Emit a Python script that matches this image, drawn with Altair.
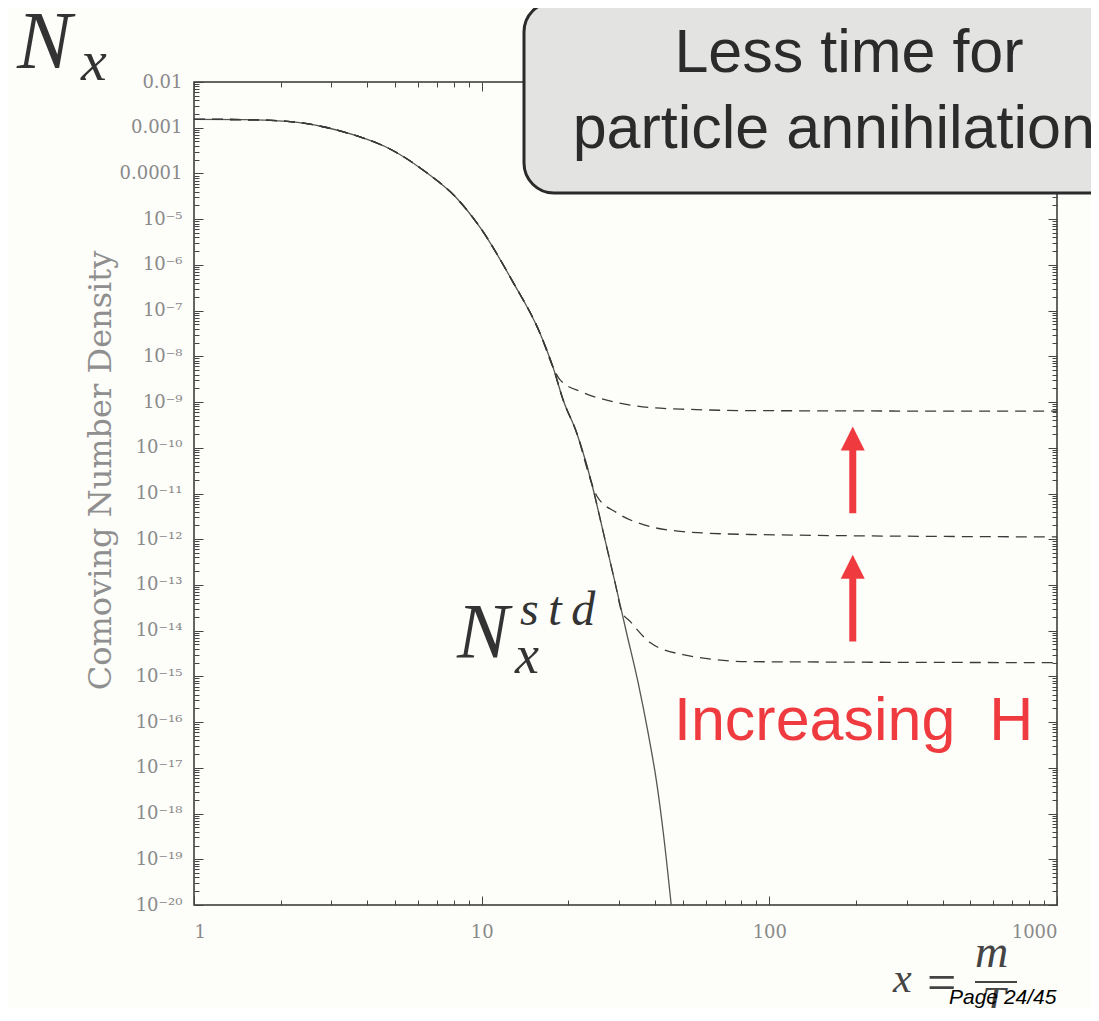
import json
import altair as alt
import pandas as pd

# ---------------- values ----------------
X_DOMAIN = [1, 1000]
Y_DOMAIN = [1e-20, 1e-2]

# equilibrium (solid) curve
EQ_X = [1.0, 1.5, 2.16, 2.81, 3.69, 4.80, 6.25, 8.21, 9.86, 12.85, 15.95, 17.7,
        19.2, 21.4, 24.1, 26.5, 29.1, 31.9, 35.0, 37.9, 40.6, 42.8, 45.6]
EQ_Y = [1.53e-3, 1.50e-3, 1.36e-3, 1.05e-3, 6.6e-4, 3.43e-4, 1.19e-4, 2.83e-5,
        6.7e-6, 4.2e-7, 3.2e-8, 5.8e-9, 1.11e-9, 2.1e-10, 1.7e-11, 1.37e-12,
        1.11e-13, 8.9e-15, 7.2e-16, 5.8e-17, 4.7e-18, 3.8e-19, 1e-20]

# dashed freeze-out curves: they follow the equilibrium curve for the first
# N points, then level off
D1_SHARED = 12
D1_X = [18.7, 22.5, 29.5, 38.5, 53.0, 85.7, 1000]
D1_Y = [3.1e-9, 1.62e-9, 9.8e-10, 7.6e-10, 6.9e-10, 6.5e-10, 6.3e-10]
D2_SHARED = 15
D2_X = [25.2, 29.5, 38.5, 50.1, 85.7, 1000]
D2_Y = [8.6e-12, 3.8e-12, 1.9e-12, 1.47e-12, 1.27e-12, 1.12e-12]
D3_SHARED = 17
D3_X = [30.7, 32.8, 38.5, 50.1, 85.7, 1000]
D3_Y = [2.6e-14, 1.6e-14, 5.5e-15, 3.0e-15, 2.1e-15, 2.0e-15]

# red "increasing H" arrows (x position, shaft bottom, shaft top, head centre)
ARROW_X = [195, 195]
ARROW_Y0 = [3.7e-12, 5.8e-15]
ARROW_Y1 = [9.9e-11, 1.6e-13]
ARROW_HEAD = [1.6e-10, 2.5e-13]

# tick values / labels
X_MAJOR = [1, 10, 100, 1000]
X_MINOR = [k * 10 ** e for e in range(0, 3) for k in range(1, 10)] + [1000]
Y_MAJOR = [10.0 ** e for e in range(-20, -1)]
Y_MINOR = [k * 10.0 ** e for e in range(-20, -2) for k in range(1, 10)] + [1e-2]
Y_TICK_LABELS = ["10⁻²⁰", "10⁻¹⁹", "10⁻¹⁸", "10⁻¹⁷", "10⁻¹⁶", "10⁻¹⁵", "10⁻¹⁴",
                 "10⁻¹³", "10⁻¹²", "10⁻¹¹", "10⁻¹⁰", "10⁻⁹", "10⁻⁸", "10⁻⁷",
                 "10⁻⁶", "10⁻⁵", "0.0001", "0.001", "0.01"]

# ---------------- tables ----------------
rows_eq = [{"x": x, "y": y, "i": i} for i, (x, y) in enumerate(zip(EQ_X, EQ_Y))]
df_eq = pd.DataFrame(rows_eq)

rows_d = []
for name, n, tx, ty in [("d1", D1_SHARED, D1_X, D1_Y),
                        ("d2", D2_SHARED, D2_X, D2_Y),
                        ("d3", D3_SHARED, D3_X, D3_Y)]:
    xs_ = EQ_X[:n] + tx
    ys_ = EQ_Y[:n] + ty
    for i, (x, y) in enumerate(zip(xs_, ys_)):
        rows_d.append({"x": x, "y": y, "i": i, "s": name})
df_d = pd.DataFrame(rows_d)

df_arrow = pd.DataFrame({"x": ARROW_X, "y0": ARROW_Y0, "y1": ARROW_Y1, "yh": ARROW_HEAD})

# ---------------- styling ----------------
W, H = 863, 823
GREY = "#8a8a8a"
RED = "#ef3b3f"
SERIF_LBL = "DejaVu Serif"
MATH = "Liberation Serif"
SANS = "Liberation Sans"

MAJOR_TEST = "abs(log(datum.value)/LN10 - round(log(datum.value)/LN10)) < 0.01"
TICK_SIZE = {"condition": {"test": MAJOR_TEST, "value": 9}, "value": 5}

xs = alt.Scale(type="log", domain=X_DOMAIN, nice=False)
ys = alt.Scale(type="log", domain=Y_DOMAIN, nice=False)

labels_js = "[" + ",".join(json.dumps(s, ensure_ascii=False) for s in Y_TICK_LABELS) + "]"

ax_x_lab = alt.Axis(orient="bottom", values=X_MAJOR, format="d", ticks=False, tickSize=0,
                    domain=False, grid=False, labelFont=SERIF_LBL, labelFontSize=18,
                    labelColor=GREY, labelPadding=18, title=None)
ax_y_lab = alt.Axis(orient="left", values=Y_MAJOR, labelExpr=labels_js + "[round(log(datum.value)/LN10) + 20]",
                    ticks=False, tickSize=0, domain=False, grid=False,
                    labelFont=SERIF_LBL, labelFontSize=18, labelColor=GREY, labelPadding=12,
                    title="Comoving Number Density", titleFont=SERIF_LBL, titleFontSize=32,
                    titleFontWeight="normal", titleColor="#8f8f8f", titleAngle=270,
                    titleX=-94, titleY=388, titleAlign="center", titleBaseline="middle")

def tick_axis(orient, offset, values):
    return alt.Axis(orient=orient, offset=offset, values=values, labels=False, domain=False,
                    grid=False, tickSize=TICK_SIZE, tickColor="#444", tickWidth=1, title=None)

eq = alt.Chart(df_eq).mark_line(color="#555", strokeWidth=1.3, interpolate="monotone").encode(
    x=alt.X("x:Q", scale=xs, axis=ax_x_lab),
    y=alt.Y("y:Q", scale=ys, axis=ax_y_lab),
    order="i:Q",
)

dashed = alt.Chart(df_d).mark_line(color="#3a3a3a", strokeWidth=1.3, strokeDash=[11, 7],
                                   interpolate="monotone").encode(
    x=alt.X("x:Q", scale=xs, axis=tick_axis("top", -H, X_MINOR)),
    y=alt.Y("y:Q", scale=ys, axis=tick_axis("right", -W, Y_MINOR)),
    detail="s:N",
    order="i:Q",
)

shaft = alt.Chart(df_arrow).mark_rule(color=RED, strokeWidth=7).encode(
    x=alt.X("x:Q", scale=xs, axis=tick_axis("bottom", -H, X_MINOR)),
    y=alt.Y("y0:Q", scale=ys, axis=tick_axis("left", -W, Y_MINOR)),
    y2="y1:Q",
)
head = alt.Chart(df_arrow).mark_point(shape="M-1,1L0,-1L1,1Z", filled=True, size=576,
                                      color=RED, opacity=1).encode(
    x=alt.X("x:Q", scale=xs, axis=None),
    y=alt.Y("yh:Q", scale=ys, axis=None),
)

one = pd.DataFrame({"k": [0]})

def txt(text, x, y, size, font, color="#333", style="normal", align="left", weight="normal"):
    return alt.Chart(one).mark_text(text=text, font=font, fontSize=size, fontStyle=style,
                                    fontWeight=weight, color=color, align=align,
                                    baseline="alphabetic").encode(
        x=alt.value(x), y=alt.value(y))

box = alt.Chart(one).mark_rect(fill="#e3e3e1", stroke="#2a2a2a", strokeWidth=3,
                               cornerRadius=30).encode(
    x=alt.value(330), x2=alt.value(940), y=alt.value(-80), y2=alt.value(111))

frac_bar = alt.Chart(one).mark_rule(color="#444", strokeWidth=2).encode(
    x=alt.value(781), x2=alt.value(823), y=alt.value(900))

NB = "\u00a0"
layers = [
    eq, dashed, shaft, head,
    box,
    txt("Less time for", 655, -10, 61, SANS, align="center", color="#2b2b2b"),
    txt("particle annihilations", 655, 66, 61, SANS, align="center", color="#2b2b2b"),
    txt("N", -177, -14, 82, MATH, style="italic"),
    txt("x", -113, -2, 58, MATH, style="italic"),
    txt("N", 263, 575, 78, MATH, style="italic"),
    txt("s\u2009t\u2009d", 326, 543, 48, MATH, style="italic"),
    txt("x", 321, 591, 54, MATH, style="italic"),
    txt("Increasing" + NB + NB + "H", 480, 658, 61, SANS, color=RED),
    txt("x", 699, 910, 42, MATH, style="italic", color="#444"),
    txt("=", 733, 918, 52, MATH, color="#444"),
    txt("m", 781, 885, 46, MATH, style="italic", color="#444"),
    frac_bar,
    txt("T", 788, 934, 42, MATH, style="italic", color="#444"),
    txt("Page 24/45", 755, 922, 21, SANS, style="italic", color="#000"),
]

chart = alt.layer(*layers).resolve_axis(x="independent", y="independent").properties(
    width=W, height=H,
    autosize=alt.AutoSizeParams(type="none"),
    padding={"left": 186, "top": 74, "right": 34, "bottom": 103},
    background="#fdfdfa",
).configure_view(stroke="#333", strokeWidth=1.5)

chart.save("out.html", embed_options={"renderer": "svg", "actions": False})
